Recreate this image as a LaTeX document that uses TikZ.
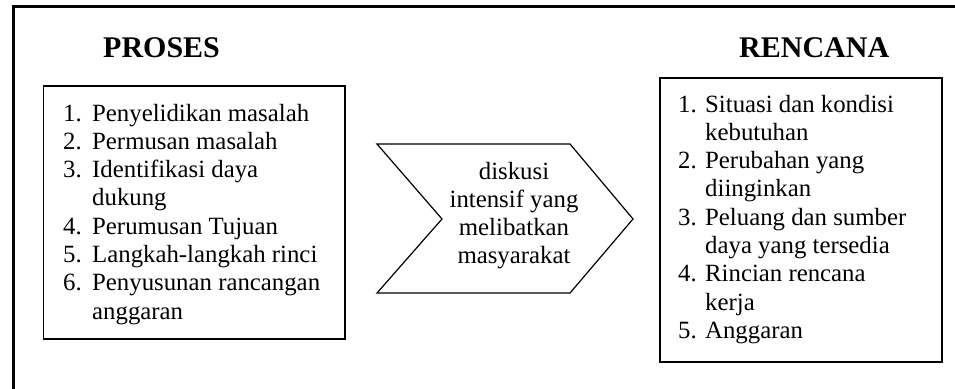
\documentclass[tikz,border=0pt]{standalone}
\usepackage{fontspec}
\setmainfont{Liberation Serif}
\usepackage{array}
\begin{document}
\begin{tikzpicture}[x=1pt,y=-1pt,
  frame/.style={line width=3pt},
  listbox/.style={draw,line width=1.6pt},
  chevron/.style={draw,line width=1.2pt,line join=miter},
  heading/.style={anchor=base west,inner sep=0pt,font=\fontsize{30}{34}\selectfont\bfseries},
  listtext/.style={anchor=base west,inner sep=0pt,font=\fontsize{24.8}{28.3}\selectfont},
  midtext/.style={anchor=base,inner sep=0pt,font=\fontsize{24.8}{28.3}\selectfont}]
\useasboundingbox (0,0) rectangle (955,388);

% outer frame (top and left edges)
\coordinate (fa) at (13.5,395);
\coordinate (fb) at (13.5,6.5);
\coordinate (fc) at (965,6.5);
\draw[frame] (fa) -- (fb) -- (fc);

% headings
\node[heading] (hproses) at (103,57) {PROSES};
\node[heading] (hrencana) at (739,57) {RENCANA};

% list boxes
\node[listbox,inner sep=0pt,minimum width=301.5pt,minimum height=253pt,anchor=north west] (boxl) at (42.5,85) {};
\node[listbox,inner sep=0pt,minimum width=282pt,minimum height=284pt,anchor=north west] (boxr) at (659,77) {};

\node[listtext] (listl) at (63,121) {%
  \begin{tabular}[t]{@{}p{29pt}@{}l@{}}
  1. & Penyelidikan masalah\\
  2. & Permusan masalah\\
  3. & Identifikasi daya\\
     & dukung\\
  4. & Perumusan Tujuan\\
  5. & Langkah-langkah rinci\\
  6. & Penyusunan rancangan\\
     & anggaran
  \end{tabular}};

\node[listtext] (listr) at (678,112) {%
  \begin{tabular}[t]{@{}p{27pt}@{}l@{}}
  1. & Situasi dan kondisi\\
     & kebutuhan\\
  2. & Perubahan yang\\
     & diinginkan\\
  3. & Peluang dan sumber\\
     & daya yang tersedia\\
  4. & Rincian rencana\\
     & kerja\\
  5. & Anggaran
  \end{tabular}};

% chevron between the boxes
\coordinate (c1) at (377,144);
\coordinate (c2) at (570,144);
\coordinate (c3) at (633,219);
\coordinate (c4) at (570,293);
\coordinate (c5) at (377,293);
\coordinate (c6) at (442,219);
\draw[chevron] (c1) -- (c2) -- (c3) -- (c4) -- (c5) -- (c6) -- cycle;

\node[midtext] (mid) at (514,179) {%
  \begin{tabular}[t]{@{}c@{}}
  diskusi\\
  intensif yang\\
  melibatkan\\
  masyarakat
  \end{tabular}};
\end{tikzpicture}
\end{document}
